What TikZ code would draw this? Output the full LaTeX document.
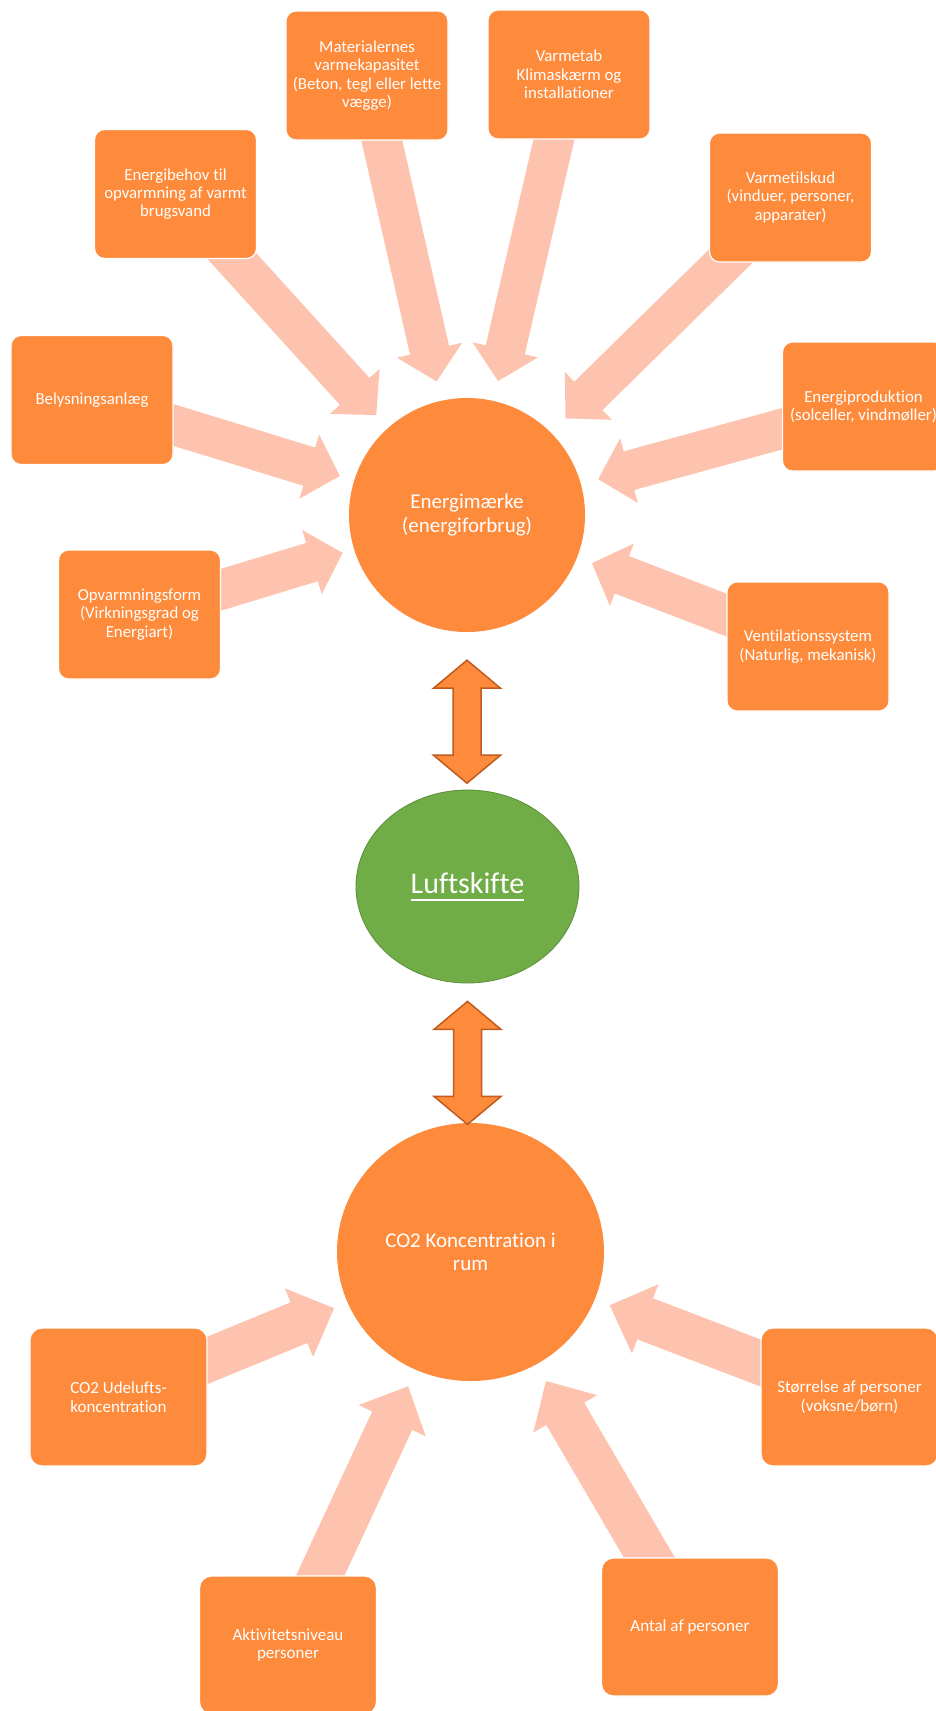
\documentclass[tikz,border=0pt]{standalone}
\usepackage{fontspec}
\setmainfont{Carlito}[Ligatures=NoCommon]
\usetikzlibrary{calc,backgrounds,shapes.geometric}
\definecolor{boxorange}{HTML}{FE8A3B}
\definecolor{paleorange}{HTML}{FDC3AE}
\definecolor{dblborder}{HTML}{C15B1E}
\definecolor{lgreen}{HTML}{70AD47}
\definecolor{lgreenb}{HTML}{5A8E38}
% block arrow: #1 start node, #2 tip coordinate, #3 half shaft, #4 half head, #5 head length
\newcommand\bkarrow[5]{%
  \coordinate (hb) at ($(#2)!#5!(#1.center)$);
  \fill[paleorange] ($(#1.center)!#3!90:(#2)$) -- ($(hb)!#3!-90:(#1.center)$) -- ($(hb)!#4!-90:(#1.center)$) -- (#2) -- ($(hb)!#4!90:(#1.center)$) -- ($(hb)!#3!90:(#1.center)$) -- ($(#1.center)!#3!-90:(#2)$) -- cycle;}
% vertical double arrow between two tips
\newcommand\dblarrow[2]{%
  \draw[dblarr] (#1) -- ($(#1)+(33.5,28)$) -- ($(#1)+(14,28)$) -- ($(#2)+(14,-28)$) -- ($(#2)+(33.5,-28)$) -- (#2) -- ($(#2)+(-33.5,-28)$) -- ($(#2)+(-14,-28)$) -- ($(#1)+(-14,28)$) -- ($(#1)+(-33.5,28)$) -- cycle;}
\newcommand\ulword[1]{\leavevmode\setbox0=\hbox{#1}\rlap{\rule[-7.5pt]{\wd0}{1.6pt}}\box0}
\tikzset{
  boxtop/.style={rectangle, rounded corners=10pt, fill=boxorange, draw=white, line width=1.2pt,
    minimum width=162pt, minimum height=129pt, inner sep=2pt, align=center, text=white,
    font=\fontsize{16.8}{18.3}\selectfont},
  boxbot/.style={boxtop, minimum width=177pt, minimum height=138pt, rounded corners=12pt,
    font=\fontsize{17}{18.7}\selectfont},
  bigcirc/.style={ellipse, fill=boxorange, inner sep=0pt, align=center, text=white,
    font=\fontsize{21}{23.4}\selectfont},
  greenell/.style={ellipse, fill=lgreen, draw=lgreenb, line width=0.8pt, inner sep=0pt,
    minimum width=223pt, minimum height=193pt, text=white, font=\fontsize{30}{36}\selectfont},
  dblarr/.style={fill=boxorange, draw=dblborder, line width=1.5pt, line join=miter},
}
\begin{document}
\begin{tikzpicture}[x=1pt,y=-1pt]
\useasboundingbox (0,0) rectangle (936,1711);
% top boxes
\node[boxtop] (Mat) at (367,75.5) {Materialernes\\varmekapasitet\\(Beton, tegl eller lette\\vægge)};
\node[boxtop] (Var) at (569,74.5) {Varmetab\\Klimaskærm og\\installationer};
\node[boxtop] (Enb) at (175.5,194) {Energibehov til\\opvarmning af varmt\\brugsvand};
\node[boxtop] (Vtk) at (790.5,197.5) {Varmetilskud\\(vinduer, personer,\\apparater)};
\node[boxtop] (Bel) at (92,400) {Belysningsanlæg};
\node[boxtop] (Enp) at (863.5,406.5) {Energiproduktion\\(solceller, vindmøller)};
\node[boxtop] (Opv) at (139.5,614.5) {Opvarmningsform\\(Virkningsgrad og\\Energiart)};
\node[boxtop] (Ven) at (808,646.5) {Ventilationssystem\\(Naturlig, mekanisk)};
% centre shapes
\node[bigcirc, minimum width=236pt, minimum height=234pt] (E) at (467,515) {Energimærke\\(energiforbrug)};
\node[greenell] (L) at (467.5,886.5) {\ulword{Luftskifte}};
\node[bigcirc, minimum width=267pt, minimum height=258pt] (C) at (470.5,1252) {CO2 Koncentration i\\rum};
% bottom boxes
\node[boxbot] (CUd) at (118.5,1397) {CO2 Udelufts-\\koncentration};
\node[boxbot] (Str) at (849.5,1397) {Størrelse af personer\\(voksne/børn)};
\node[boxbot] (Akt) at (288,1645) {Aktivitetsniveau\\personer};
\node[boxbot] (Ant) at (690,1627) {Antal af personer};
% double arrows
\coordinate (d1a) at ($(E.south)+(0,28)$);
\coordinate (d1b) at ($(E.south)+(0,151)$);
\coordinate (d2a) at ($(L.south)+(0,18)$);
\coordinate (d2b) at ($(L.south)+(0,141)$);
\dblarrow{d1a}{d1b}
\dblarrow{d2a}{d2b}
% tips of the block arrows
\coordinate (tA) at ($(E.center)!135pt!(Enb.center)$);
\coordinate (tB) at ($(E.center)!137pt!(Mat.center)$);
\coordinate (tC) at ($(E.center)!137.5pt!(Var.center)$);
\coordinate (tD) at ($(E.center)!138pt!(Vtk.center)$);
\coordinate (tE) at ($(E.center)!136pt!(Enp.center)$);
\coordinate (tF) at ($(E.center)!133pt!(Bel.center)$);
\coordinate (tG) at ($(E.center)!130pt!(Opv.center)$);
\coordinate (tH) at ($(E.center)!134pt!(Ven.center)$);
\coordinate (tI) at ($(C.center)!147.5pt!(CUd.center)$);
\coordinate (tJ) at ($(C.center)!148pt!(Akt.center)$);
\coordinate (tK) at ($(C.center)!149.5pt!(Ant.center)$);
\coordinate (tL) at ($(C.center)!149pt!(Str.center)$);
\begin{pgfonlayer}{background}
\fill[white] (0,0) rectangle (936,1711);
\bkarrow{Enb}{tA}{20pt}{33.5pt}{32pt}
\bkarrow{Mat}{tB}{20pt}{33.5pt}{32pt}
\bkarrow{Var}{tC}{20pt}{33.5pt}{32pt}
\bkarrow{Vtk}{tD}{20pt}{33.5pt}{32pt}
\bkarrow{Enp}{tE}{20pt}{33.5pt}{32pt}
\bkarrow{Bel}{tF}{20pt}{33.5pt}{32pt}
\bkarrow{Opv}{tG}{20pt}{33.5pt}{32pt}
\bkarrow{Ven}{tH}{20pt}{33.5pt}{32pt}
\bkarrow{CUd}{tI}{22pt}{37pt}{38pt}
\bkarrow{Akt}{tJ}{22pt}{37pt}{38pt}
\bkarrow{Ant}{tK}{22pt}{37pt}{38pt}
\bkarrow{Str}{tL}{22pt}{37pt}{38pt}
\end{pgfonlayer}
\end{tikzpicture}
\end{document}
